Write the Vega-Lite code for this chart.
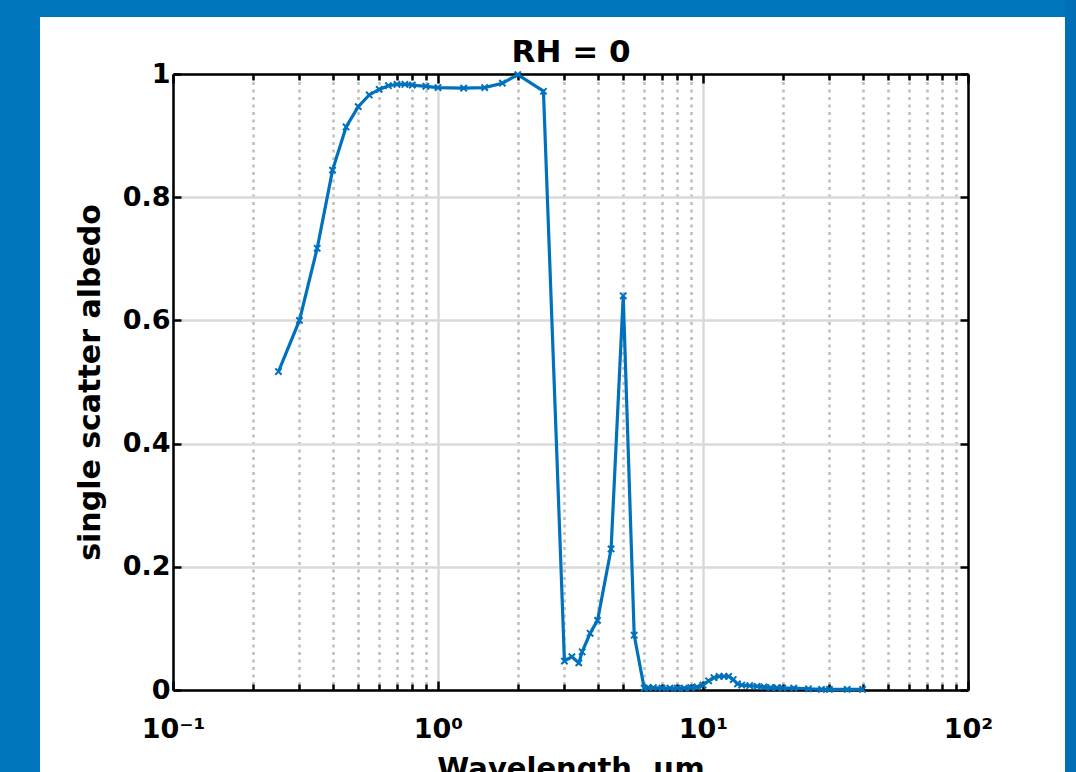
{
  "$schema": "https://vega.github.io/schema/vega-lite/v6.json",
  "width": 795,
  "height": 616,
  "autosize": {"type": "none"},
  "padding": {"left": 173, "top": 74, "right": 108, "bottom": 82},
  "background": "#ffffff",
  "config": {"view": {"stroke": null}, "font": "DejaVu Sans"},
  "data": {"values": [
    {"w": 0.25, "a": 0.517}, {"w": 0.3, "a": 0.600}, {"w": 0.35, "a": 0.717}, {"w": 0.4, "a": 0.844},
    {"w": 0.45, "a": 0.914}, {"w": 0.5, "a": 0.947}, {"w": 0.55, "a": 0.966}, {"w": 0.6, "a": 0.975},
    {"w": 0.65, "a": 0.981}, {"w": 0.7, "a": 0.983}, {"w": 0.75, "a": 0.983}, {"w": 0.8, "a": 0.982},
    {"w": 0.9, "a": 0.980}, {"w": 1.0, "a": 0.978}, {"w": 1.25, "a": 0.977}, {"w": 1.5, "a": 0.978},
    {"w": 1.75, "a": 0.985}, {"w": 2.0, "a": 0.999}, {"w": 2.5, "a": 0.972}, {"w": 3.0, "a": 0.047},
    {"w": 3.2, "a": 0.054}, {"w": 3.4, "a": 0.044}, {"w": 3.5, "a": 0.062}, {"w": 3.75, "a": 0.092},
    {"w": 4.0, "a": 0.113}, {"w": 4.5, "a": 0.229}, {"w": 5.0, "a": 0.640}, {"w": 5.5, "a": 0.089},
    {"w": 6.0, "a": 0.003}, {"w": 6.2, "a": 0.004}, {"w": 6.5, "a": 0.004}, {"w": 7.0, "a": 0.003},
    {"w": 7.5, "a": 0.003}, {"w": 8.0, "a": 0.003}, {"w": 8.5, "a": 0.003}, {"w": 9.0, "a": 0.004},
    {"w": 9.5, "a": 0.005}, {"w": 10.0, "a": 0.008}, {"w": 10.5, "a": 0.015}, {"w": 11.0, "a": 0.020},
    {"w": 11.5, "a": 0.022}, {"w": 12.0, "a": 0.022}, {"w": 12.5, "a": 0.022}, {"w": 13.0, "a": 0.017},
    {"w": 13.5, "a": 0.010}, {"w": 14.0, "a": 0.008}, {"w": 15.0, "a": 0.007}, {"w": 16.0, "a": 0.006},
    {"w": 17.0, "a": 0.005}, {"w": 18.0, "a": 0.004}, {"w": 19.0, "a": 0.004}, {"w": 20.0, "a": 0.003},
    {"w": 22.0, "a": 0.003}, {"w": 25.0, "a": 0.002}, {"w": 28.0, "a": 0.001}, {"w": 30.0, "a": 0.001},
    {"w": 35.0, "a": 0.001}, {"w": 40.0, "a": 0.001}
  ]},
  "resolve": {"axis": {"x": "independent", "y": "independent"}},
  "layer": [
    {
      "mark": {"type": "line", "color": "#0072BD", "strokeWidth": 3.2},
      "encoding": {
        "x": {
          "field": "w", "type": "quantitative",
          "scale": {"type": "log", "domain": [0.1, 100], "nice": false},
          "axis": {
            "orient": "bottom",
            "values": [0.1, 0.2, 0.3, 0.4, 0.5, 0.6, 0.7, 0.8, 0.9, 1, 2, 3, 4, 5, 6, 7, 8, 9, 10, 20, 30, 40, 50, 60, 70, 80, 90, 100],
            "labelExpr": "datum.value == 0.1 ? '10⁻¹' : datum.value == 1 ? '10⁰' : datum.value == 10 ? '10¹' : datum.value == 100 ? '10²' : ''",
            "labelFont": "DejaVu Sans", "labelFontSize": 27, "labelFontWeight": "bold", "labelColor": "#000000",
            "labelPadding": 35, "labelOverlap": false, "labelFlush": false,
            "tickSize": {"condition": {"test": "datum.value == 0.1 || datum.value == 1 || datum.value == 10 || datum.value == 100", "value": -9}, "value": -6},
            "tickColor": "#000000", "tickWidth": 2.5,
            "domainColor": "#000000", "domainWidth": 2.5,
            "grid": true,
            "gridColor": {"condition": {"test": "datum.value == 0.1 || datum.value == 1 || datum.value == 10 || datum.value == 100", "value": "#d9d9d9"}, "value": "#bdbdbd"},
            "gridDash": {"condition": {"test": "datum.value == 0.1 || datum.value == 1 || datum.value == 10 || datum.value == 100", "value": []}, "value": [3, 4.5]},
            "gridWidth": 2.5,
            "title": "Wavelength, μm",
            "titleFont": "DejaVu Sans", "titleFontSize": 29, "titleFontWeight": "bold", "titleColor": "#000000", "titlePadding": 9
          }
        },
        "y": {
          "field": "a", "type": "quantitative",
          "scale": {"domain": [0, 1], "nice": false, "zero": false},
          "axis": {
            "orient": "left",
            "values": [0, 0.2, 0.4, 0.6, 0.8, 1],
            "labelExpr": "datum.value == 0 ? '0' : datum.value == 1 ? '1' : format(datum.value, '.1f')",
            "labelFont": "DejaVu Sans", "labelFontSize": 27, "labelFontWeight": "bold", "labelColor": "#000000",
            "labelPadding": 11, "labelOverlap": false, "labelFlush": false,
            "tickSize": -8, "tickColor": "#000000", "tickWidth": 2.5,
            "domainColor": "#000000", "domainWidth": 2.5,
            "grid": true, "gridColor": "#d9d9d9", "gridWidth": 2.5,
            "title": "single scatter albedo",
            "titleFont": "DejaVu Sans", "titleFontSize": 30, "titleFontWeight": "bold", "titleColor": "#000000", "titlePadding": 17
          }
        }
      }
    },
    {
      "mark": {"type": "point", "shape": "M-1,-1L1,1M-1,1L1,-1", "filled": false, "color": "#0072BD", "strokeWidth": 2, "size": 40, "opacity": 1},
      "encoding": {
        "x": {
          "field": "w", "type": "quantitative",
          "scale": {"type": "log", "domain": [0.1, 100], "nice": false},
          "axis": {
            "orient": "top",
            "values": [0.1, 0.2, 0.3, 0.4, 0.5, 0.6, 0.7, 0.8, 0.9, 1, 2, 3, 4, 5, 6, 7, 8, 9, 10, 20, 30, 40, 50, 60, 70, 80, 90, 100],
            "labels": false, "grid": false,
            "title": "RH = 0",
            "titleFont": "DejaVu Sans", "titleFontSize": 31, "titleFontWeight": "bold", "titleColor": "#000000",
            "titleBaseline": "alphabetic", "titlePadding": 11,
            "tickSize": {"condition": {"test": "datum.value == 0.1 || datum.value == 1 || datum.value == 10 || datum.value == 100", "value": -9}, "value": -6},
            "tickColor": "#000000", "tickWidth": 2.5,
            "domainColor": "#000000", "domainWidth": 2.5
          }
        },
        "y": {
          "field": "a", "type": "quantitative",
          "scale": {"domain": [0, 1], "nice": false, "zero": false},
          "axis": {
            "orient": "right",
            "values": [0, 0.2, 0.4, 0.6, 0.8, 1],
            "labels": false, "grid": false, "title": null,
            "tickSize": -8, "tickColor": "#000000", "tickWidth": 2.5,
            "domainColor": "#000000", "domainWidth": 2.5
          }
        }
      }
    },
    {
      "mark": {"type": "rect", "color": "#0075BB", "opacity": 1},
      "encoding": {
        "x": {"datum": 0.0204, "type": "quantitative", "scale": {"type": "log", "domain": [0.1, 100], "nice": false}, "axis": null},
        "x2": {"datum": 0.03148},
        "y": {"datum": 1.14, "type": "quantitative", "scale": {"domain": [0, 1], "nice": false, "zero": false}, "axis": null},
        "y2": {"datum": -0.15}
      }
    },
    {
      "mark": {"type": "rect", "color": "#0075BB", "opacity": 1},
      "encoding": {
        "x": {"datum": 0.0204, "type": "quantitative", "scale": {"type": "log", "domain": [0.1, 100], "nice": false}, "axis": null},
        "x2": {"datum": 290},
        "y": {"datum": 1.14, "type": "quantitative", "scale": {"domain": [0, 1], "nice": false, "zero": false}, "axis": null},
        "y2": {"datum": 1.0925}
      }
    },
    {
      "mark": {"type": "rect", "color": "#006FB5", "opacity": 1},
      "encoding": {
        "x": {"datum": 232.3, "type": "quantitative", "scale": {"type": "log", "domain": [0.1, 100], "nice": false}, "axis": null},
        "x2": {"datum": 290},
        "y": {"datum": 1.14, "type": "quantitative", "scale": {"domain": [0, 1], "nice": false, "zero": false}, "axis": null},
        "y2": {"datum": -0.15}
      }
    }
  ]
}
